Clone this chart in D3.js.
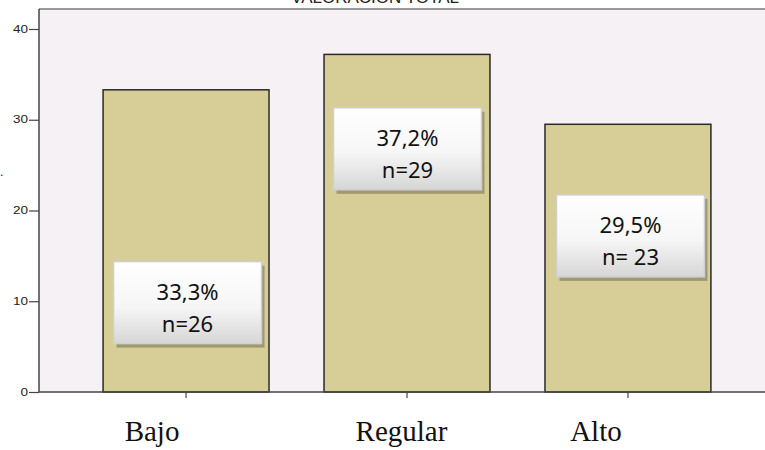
<!DOCTYPE html>
<html>
<head>
<meta charset="utf-8">
<script src="https://cdn.jsdelivr.net/npm/d3@7"></script>
<style>
  html, body { margin: 0; padding: 0; background: #ffffff; }
  svg { display: block; }
</style>
</head>
<body>
<svg id="chart" width="765" height="450"></svg>
<script>
// ---- data ----
const categories = ["Bajo", "Regular", "Alto"];
const percentValues = [33.3, 37.2, 29.5];
const counts = [26, 29, 23];
const percentLabels = ["33,3%", "37,2%", "29,5%"];
const countLabels = ["n=26", "n=29", "n= 23"];
const yTicks = [0, 10, 20, 30, 40];
const titleText = "VALORACIÓN TOTAL";

// ---- layout (not data) ----
const labelCenterValue = [9.85, 26.8, 17.2];  // vertical centre of each label box, in axis units
const labelBoxDx = [1.5, 0.5, 2.5];           // horizontal offset of label box from bar centre
const catLabelDx = [-34, -5.5, -32];          // offset of category text from tick

const svg = d3.select("#chart");
const plot = { left: 39, top: 9, right: 765, bottom: 392 };

const x = d3.scaleBand()
  .domain(categories)
  .range([plot.left, 775])
  .paddingInner(0.249)
  .paddingOuter(0.29);

const y = d3.scaleLinear()
  .domain([0, 40])
  .range([plot.bottom, 29]);

// defs
const defs = svg.append("defs");
const grad = defs.append("linearGradient").attr("id", "boxGrad")
  .attr("x1", 0).attr("y1", 0).attr("x2", 0).attr("y2", 1);
grad.append("stop").attr("offset", "0%").attr("stop-color", "#ffffff");
grad.append("stop").attr("offset", "55%").attr("stop-color", "#f6f6f6");
grad.append("stop").attr("offset", "100%").attr("stop-color", "#d6d6d6");

// plot background
svg.append("rect")
  .attr("x", plot.left).attr("y", plot.top)
  .attr("width", plot.right - plot.left).attr("height", plot.bottom - plot.top)
  .attr("fill", "#f5f1f5");

// top border
svg.append("line")
  .attr("x1", plot.left).attr("x2", plot.right)
  .attr("y1", plot.top).attr("y2", plot.top)
  .attr("stroke", "#999999").attr("stroke-width", 2);

// clipped title (only the bottom of it shows, as in the reference)
svg.append("text")
  .attr("x", 375).attr("y", 3)
  .attr("text-anchor", "middle")
  .attr("font-family", "Liberation Sans, Arial, sans-serif")
  .attr("font-size", 17)
  .attr("fill", "#222")
  .text(titleText);

// cut-off y label remnant
svg.append("text")
  .attr("x", 0).attr("y", 176)
  .attr("font-family", "Liberation Sans, Arial, sans-serif")
  .attr("font-size", 12)
  .attr("fill", "#222")
  .text(".");

// bars
svg.append("g").selectAll("rect")
  .data(categories)
  .join("rect")
  .attr("x", d => x(d))
  .attr("y", (d, i) => y(percentValues[i]))
  .attr("width", x.bandwidth())
  .attr("height", (d, i) => y(0) - y(percentValues[i]))
  .attr("fill", "#d6ce96")
  .attr("stroke", "#2a2a2a")
  .attr("stroke-width", 1.5);

// y axis
const yAxis = d3.axisLeft(y).tickValues(yTicks).tickSize(10).tickPadding(1).tickFormat(d3.format("d"));
const gy = svg.append("g").attr("transform", `translate(${plot.left},0)`).call(yAxis);
gy.select(".domain").remove();
gy.append("line").attr("x1", 0).attr("x2", 0).attr("y1", plot.top).attr("y2", plot.bottom)
  .attr("stroke", "#444").attr("stroke-width", 1.5);
gy.selectAll(".tick line").attr("stroke", "#444").attr("stroke-width", 1.2);
gy.selectAll(".tick text")
  .attr("font-family", "Liberation Sans, Arial, sans-serif")
  .attr("font-size", 10)
  .attr("textLength", d => String(d).length * 7.5)
  .attr("lengthAdjust", "spacingAndGlyphs")
  .attr("fill", "#222");

// x axis
const xAxis = d3.axisBottom(x).tickSize(6).tickFormat("");
const gx = svg.append("g").attr("transform", `translate(0,${plot.bottom})`).call(xAxis);
gx.select(".domain").remove();
gx.append("line").attr("x1", plot.left).attr("x2", plot.right).attr("y1", 0).attr("y2", 0)
  .attr("stroke", "#444").attr("stroke-width", 1.5);
gx.selectAll(".tick line").attr("stroke", "#444").attr("stroke-width", 1.2);

// category labels
svg.append("g").selectAll("text")
  .data(categories)
  .join("text")
  .attr("x", (d, i) => x(d) + x.bandwidth() / 2 + catLabelDx[i])
  .attr("y", 441)
  .attr("text-anchor", "middle")
  .attr("font-family", "Liberation Serif, Times New Roman, serif")
  .attr("font-size", 29)
  .attr("fill", "#111")
  .text(d => d);

// label boxes
const boxW = 148, boxH = 82;
const lab = svg.append("g").selectAll("g")
  .data(categories)
  .join("g")
  .attr("transform", (d, i) => {
    const cx = x(d) + x.bandwidth() / 2 + labelBoxDx[i];
    const cy = y(labelCenterValue[i]);
    return `translate(${cx - boxW / 2},${cy - boxH / 2})`;
  });
lab.append("rect")
  .attr("x", 3).attr("y", 4).attr("width", boxW).attr("height", boxH)
  .attr("fill", "#99946c").attr("opacity", 0.9);
lab.append("rect")
  .attr("x", 0).attr("y", 0).attr("width", boxW).attr("height", boxH)
  .attr("fill", "url(#boxGrad)")
  .attr("stroke", "#cfcfcf").attr("stroke-width", 1.5);
lab.append("text")
  .attr("x", boxW / 2).attr("y", 38)
  .attr("text-anchor", "middle")
  .attr("font-family", "Noto Sans, Open Sans, sans-serif")
  .attr("font-size", 22)
  .attr("fill", "#111")
  .text((d, i) => percentLabels[i]);
lab.append("text")
  .attr("x", boxW / 2).attr("y", 70)
  .attr("text-anchor", "middle")
  .attr("font-family", "Noto Sans, Open Sans, sans-serif")
  .attr("font-size", 22)
  .attr("fill", "#111")
  .text((d, i) => countLabels[i]);
</script>
</body>
</html>
